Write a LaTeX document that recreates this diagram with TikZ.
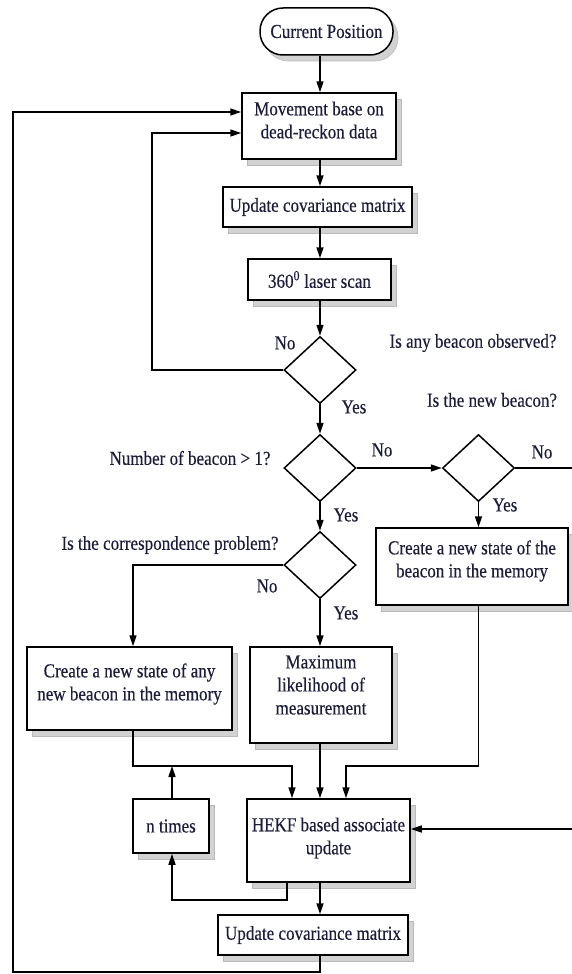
\documentclass[tikz,border=0pt]{standalone}
\usepackage{fontspec}
\setmainfont{Liberation Serif}[FakeStretch=0.86,FakeBold=0.3]
\usetikzlibrary{shapes.geometric,arrows.meta,shadows}
\definecolor{textc}{RGB}{28,28,60}
\begin{document}
\begin{tikzpicture}[x=1pt,y=-1pt,
  every node/.style={font=\fontsize{19.8}{23}\selectfont, text=textc, inner sep=0pt},
  box/.style={draw, line width=1.5pt, fill=white,
    general shadow={fill=gray!35, draw=gray!55, line width=0.6pt, shadow xshift=5pt, shadow yshift=-6pt}},
  dia/.style={draw, diamond, line width=1.5pt, fill=white, minimum width=72pt, minimum height=67pt, inner sep=0pt},
  arr/.style={line width=1.5pt, -{Triangle[length=11pt,width=7pt]}},
  txt/.style={align=center}]
\useasboundingbox (0,0) rectangle (571,974);

% boxes
\node[box, rounded corners=23pt, minimum width=133pt, minimum height=47pt] (cp) at (326.5,31.5) {Current Position};
\node[box, minimum width=154pt, minimum height=66pt] (mov) at (319,126) {};
\node[txt] (movt) at (319,120) {Movement base on\\dead-reckon data};
\node[box, minimum width=189pt, minimum height=40pt] (upd1) at (317.5,207) {Update covariance matrix};
\node[box, minimum width=143pt, minimum height=41pt] (laser) at (319.5,279.5) {360\textsuperscript{0} laser scan};

\node[dia] (d1) at (320,370) {};
\node[dia] (d2) at (320,468) {};
\node[dia] (d3) at (478.5,468) {};
\node[dia] (d4) at (320,565) {};

\node[box, minimum width=192pt, minimum height=77pt] (cb) at (472,566.5) {};
\node[txt] (cbt) at (472,561) {Create a new state of the\\beacon in the memory};
\node[box, minimum width=205pt, minimum height=83pt] (ca) at (129.5,688.5) {};
\node[txt] (cat) at (129.5,684) {Create a new state of any\\new beacon in the memory};
\node[box, minimum width=142pt, minimum height=96pt] (ml) at (321,695) {};
\node[txt] (mlt) at (321,685) {Maximum\\likelihood of\\measurement};
\node[box, minimum width=76pt, minimum height=54pt] (nt) at (171,826) {n times};
\node[box, minimum width=163pt, minimum height=83pt] (hekf) at (328.5,840.5) {};
\node[txt] (hekft) at (328.5,838) {HEKF based associate\\update};
\node[box, minimum width=190pt, minimum height=40pt] (upd2) at (313,935) {Update covariance matrix};

% labels
\node (l1) at (285,343) {No};
\node (l2) at (354,407) {Yes};
\node (q1) at (473,343) {Is any beacon observed?};
\node (q2) at (492,400) {Is the new beacon?};
\node (q3) at (190,458) {Number of beacon > 1?};
\node (l3) at (382,450) {No};
\node (l4) at (542,452) {No};
\node (l5) at (346,515) {Yes};
\node (l6) at (505,505) {Yes};
\node (q4) at (170,545) {Is the correspondence problem?};
\node (l7) at (267,586) {No};
\node (l8) at (346,613) {Yes};

% connectors
\draw[arr] (cp.south -| d1.north) -- (mov.north -| d1.north);
\draw[arr] (mov.south -| d1.north) -- (upd1.north -| d1.north);
\draw[arr] (upd1.south -| d1.north) -- (laser.north -| d1.north);
\draw[arr] (laser.south -| d1.north) -- (d1.north);
\coordinate (lp) at (152,133);
\draw[arr] (d1.west) -| (lp) -- (lp -| mov.west);
\draw[arr] (d1.south) -- (d2.north);
\draw[arr] (d2.east) -- (d3.west);
\coordinate (re) at (577,468);
\coordinate (rin) at (577,829);
\draw[arr] (d3.east) -- (re) -- (rin) -- (rin -| hekf.east);
\draw[arr] (d3.south) -- (cb.north -| d3.south);
\draw[arr] (d2.south) -- (d4.north);
\coordinate (cl) at (133,565);
\draw[arr] (d4.west) -- (cl) -- (cl |- ca.north);
\draw[arr] (d4.south) -- (ml.north -| d4.south);
\coordinate (j1) at (133,766);
\coordinate (j2) at (292,766);
\draw[arr] (ca.south -| j1) -- (j1) -- (j2) -- (j2 |- hekf.north);
\draw[arr] (ml.south -| d4.south) -- (hekf.north -| d4.south);
\coordinate (j3) at (478.5,766);
\coordinate (j4) at (346,766);
\draw[arr] (cb.south -| j3) -- (j3) -- (j4) -- (j4 |- hekf.north);
\coordinate (j5) at (287,900);
\coordinate (j6) at (172,900);
\draw[arr] (hekf.south -| j5) -- (j5) -- (j6) -- (j6 |- nt.south);
\coordinate (j7) at (172,766);
\draw[arr] (nt.north -| j7) -- (j7);
\draw[arr] (hekf.south -| d4.south) -- (upd2.north -| d4.south);
\coordinate (b1) at (320,972);
\coordinate (b2) at (13,972);
\coordinate (b3) at (13,112);
\draw[arr] (upd2.south -| b1) -- (b1) -- (b2) -- (b3) -- (b3 -| mov.west);
\end{tikzpicture}
\end{document}
